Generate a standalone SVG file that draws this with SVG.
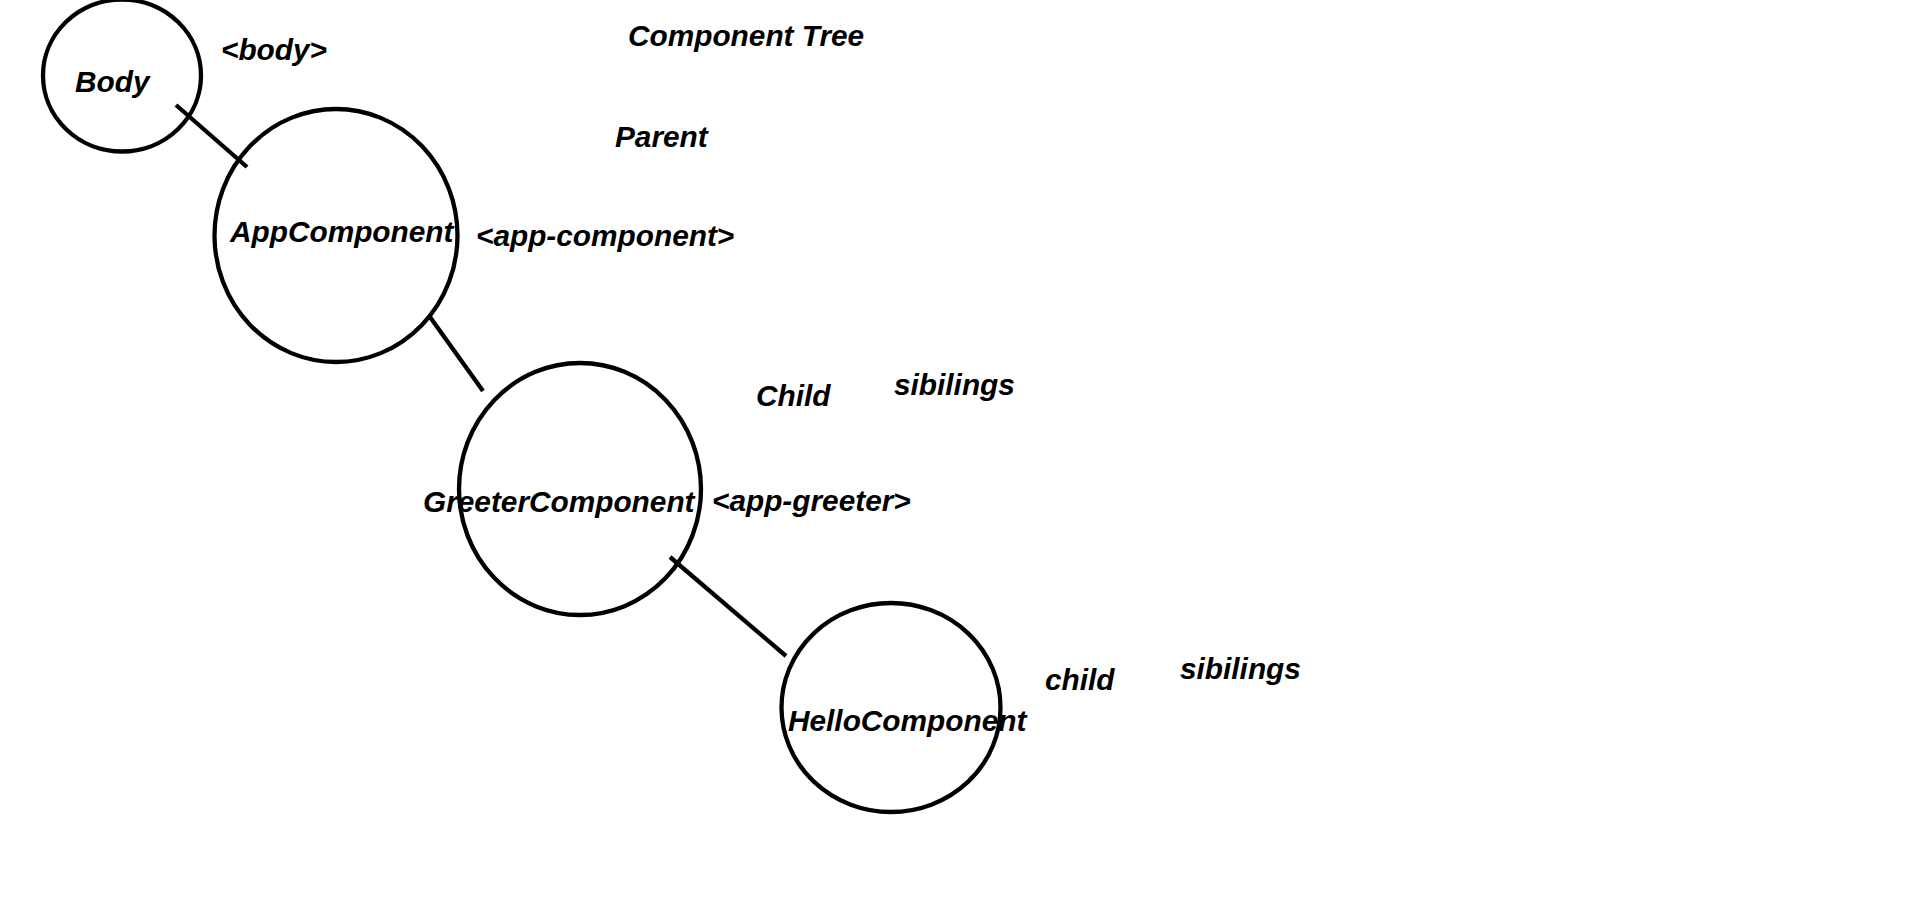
<svg xmlns="http://www.w3.org/2000/svg" width="1914" height="903" viewBox="0 0 1914 903">
<style>
.n{fill:none;stroke:#000;stroke-width:4.3}
.c{stroke:#000;stroke-width:4.3;fill:none}
text{font-family:"Liberation Sans",Arial,sans-serif;font-weight:bold;font-style:italic;font-size:29.8px;fill:#000}
</style>
<rect x="0" y="0" width="1914" height="903" fill="#fff"/>
<g id="connectors">
<line class="c" x1="176" y1="105" x2="247" y2="167"/>
<line class="c" x1="430" y1="317" x2="483" y2="391"/>
<line class="c" x1="670" y1="557" x2="786" y2="656"/>
</g>
<g id="node-body">
<ellipse class="n" cx="122" cy="75.5" rx="79" ry="76"/>
<text x="75" y="92">Body</text>
</g>
<g id="node-app">
<ellipse class="n" cx="336" cy="235.5" rx="121.5" ry="126.5"/>
<text x="230" y="242">AppComponent</text>
</g>
<g id="node-greeter">
<ellipse class="n" cx="580" cy="489" rx="121" ry="126"/>
<text x="423" y="512">GreeterComponent</text>
</g>
<g id="node-hello">
<ellipse class="n" cx="891" cy="707.5" rx="109.5" ry="104.5"/>
<text x="788" y="731">HelloComponent</text>
</g>
<g id="labels">
<text x="221" y="60">&lt;body&gt;</text>
<text x="628" y="46">Component Tree</text>
<text x="615" y="147">Parent</text>
<text x="476" y="246">&lt;app-component&gt;</text>
<text x="756" y="406">Child</text>
<text x="894" y="395">sibilings</text>
<text x="712" y="511">&lt;app-greeter&gt;</text>
<text x="1045" y="690">child</text>
<text x="1180" y="679">sibilings</text>
</g>
</svg>
